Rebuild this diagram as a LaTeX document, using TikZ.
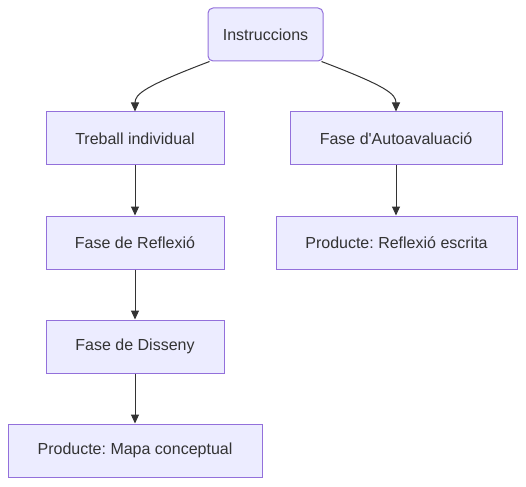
\documentclass[tikz,border=0pt]{standalone}
\usepackage{fontspec}
\setmainfont{Liberation Sans}[Ligatures=TeXOff]
\usetikzlibrary{arrows.meta}
\frenchspacing
\definecolor{nfill}{HTML}{ECECFF}
\definecolor{nstroke}{HTML}{9370DB}
\definecolor{ntext}{HTML}{333333}
\definecolor{eline}{HTML}{333333}
\tikzset{
  box/.style={draw=nstroke, fill=nfill, line width=1pt, text=ntext, font=\fontsize{16}{19}\selectfont, minimum height=53pt, inner sep=0pt, anchor=center},
  conn/.style={draw=eline, line width=1pt, -{Triangle[length=9pt,width=8pt]}},
}
\begin{document}
\begin{tikzpicture}[x=1pt,y=-1pt]
\useasboundingbox (0,0) rectangle (526,486);
\node[box, rounded corners=5pt, minimum width=115pt] (ins) at (265.5,34.5) {Instruccions};
\node[box, minimum width=178pt] (tre) at (135,138.5) {Treball individual};
\node[box, minimum width=212pt] (aut) at (396,138.5) {Fase d'Autoavaluació};
\node[box, minimum width=241pt] (pre) at (396.5,242.5) {Producte: Reflexió escrita};
\node[box, minimum width=178pt] (ref) at (135,242.5) {Fase de Reflexió};
\node[box, minimum width=178pt] (dis) at (135,346.5) {Fase de Disseny};
\node[box, minimum width=254pt] (map) at (135,450.5) {Producte: Mapa conceptual};
\draw[conn] ([xshift=2pt]ins.south west) .. controls (145,86) and (135,94) .. (tre.north);
\draw[conn] ([xshift=-2pt]ins.south east) .. controls (386,86) and (396,94) .. (aut.north);
\draw[conn] (tre) -- (ref);
\draw[conn] (ref) -- (dis);
\draw[conn] (dis) -- (map);
\draw[conn] (aut.south) -- (aut.south |- pre.north);
\end{tikzpicture}
\end{document}
